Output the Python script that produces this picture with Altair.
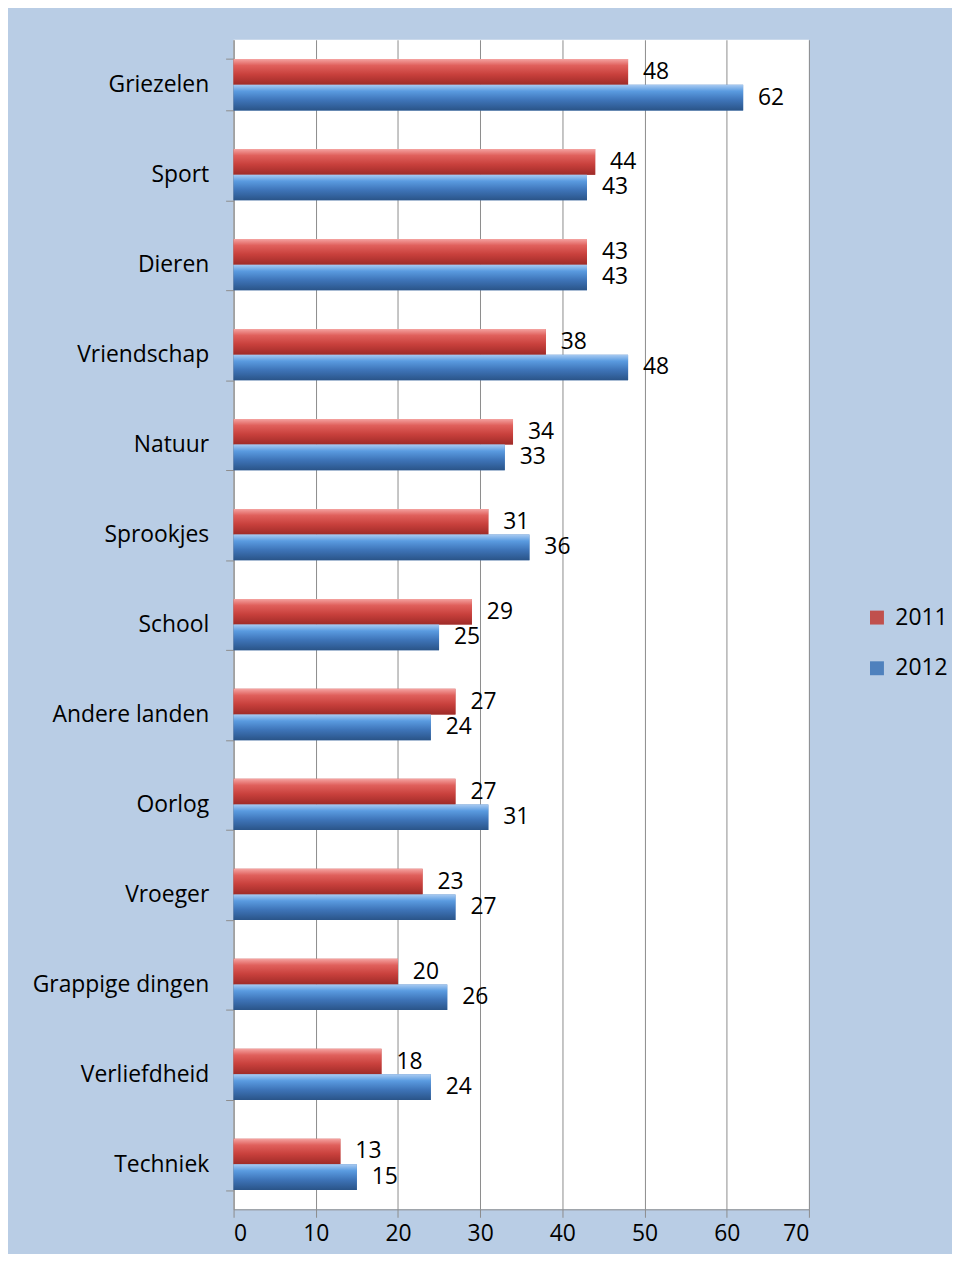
import altair as alt
import pandas as pd

categories = ["Griezelen ", "Sport", "Dieren", "Vriendschap", "Natuur", "Sprookjes",
              "School", "Andere landen", "Oorlog", "Vroeger", "Grappige dingen ",
              "Verliefdheid", "Techniek"]
v2011 = [48, 44, 43, 38, 34, 31, 29, 27, 27, 23, 20, 18, 13]
v2012 = [62, 43, 43, 48, 33, 36, 25, 24, 31, 27, 26, 24, 15]
series = ["2011", "2012"]
x_ticks = [0, 10, 20, 30, 40, 50, 60, 70]

rows = []
for c, a, b in zip(categories, v2011, v2012):
    rows.append({"cat": c, "jaar": "2011", "val": a})
    rows.append({"cat": c, "jaar": "2012", "val": b})
df = pd.DataFrame(rows)

FONT = "Open Sans"

x_enc = alt.X("val:Q", scale=alt.Scale(domain=[0, 70], nice=False),
              axis=alt.Axis(values=x_ticks, title=None, grid=True, gridColor="#8C8C8C",
                            gridWidth=1, domainColor="#8C8C8C", tickColor="#8C8C8C",
                            tickSize=8, labelFontSize=23, labelFont=FONT, labelColor="#000000",
                            labelPadding=5))
y_enc = alt.Y("cat:N", sort=categories,
              scale=alt.Scale(paddingInner=0.43, paddingOuter=0.215),
              axis=alt.Axis(title=None, grid=False, tickBand="extent", domainColor="#8C8C8C",
                            tickColor="#8C8C8C", tickSize=8, labelFontSize=23, labelFont=FONT,
                            labelColor="#000000", labelPadding=17))
yoff = alt.YOffset("jaar:N", sort=series)

base = alt.Chart(df).encode(x=x_enc, y=y_enc, yOffset=yoff)

bars = base.mark_bar().encode(
    color=alt.Color("jaar:N", sort=series,
                    scale=alt.Scale(domain=series, range=["#C0504D", "#4F81BD"]),
                    legend=alt.Legend(title=None, orient="none", legendX=636, legendY=570,
                                      symbolType="square", symbolSize=196, labelFontSize=23,
                                      labelFont=FONT, labelColor="#000000", rowPadding=27,
                                      labelOffset=7, symbolStrokeWidth=0))
)

red_grad = alt.Gradient(gradient="linear", x1=0, y1=0, x2=0, y2=1, stops=[
    alt.GradientStop(color="#F4A3A1", offset=0),
    alt.GradientStop(color="#E0605C", offset=0.25),
    alt.GradientStop(color="#C8403C", offset=0.6),
    alt.GradientStop(color="#9E2B28", offset=1)])
blue_grad = alt.Gradient(gradient="linear", x1=0, y1=0, x2=0, y2=1, stops=[
    alt.GradientStop(color="#A9CBF2", offset=0),
    alt.GradientStop(color="#5A9BE0", offset=0.25),
    alt.GradientStop(color="#3E74B8", offset=0.6),
    alt.GradientStop(color="#2A5488", offset=1)])

red_bars = base.mark_bar(fill=red_grad).transform_filter(alt.datum.jaar == "2011")
blue_bars = base.mark_bar(fill=blue_grad).transform_filter(alt.datum.jaar == "2012")

labels = base.mark_text(align="left", baseline="middle", dx=15, fontSize=23, font=FONT,
                        color="#000000").encode(text=alt.Text("val:Q"))

chart = alt.layer(bars, red_bars, blue_bars, labels).properties(
    width=579, height=1177,
    autosize=alt.AutoSizeParams(type="none"),
    padding={"left": 227, "top": 28, "right": 144, "bottom": 41},
    background="#B9CDE5",
).configure_view(fill="#FFFFFF", stroke=None)

chart.save("out.html", embed_options={"renderer": "svg", "actions": False})
